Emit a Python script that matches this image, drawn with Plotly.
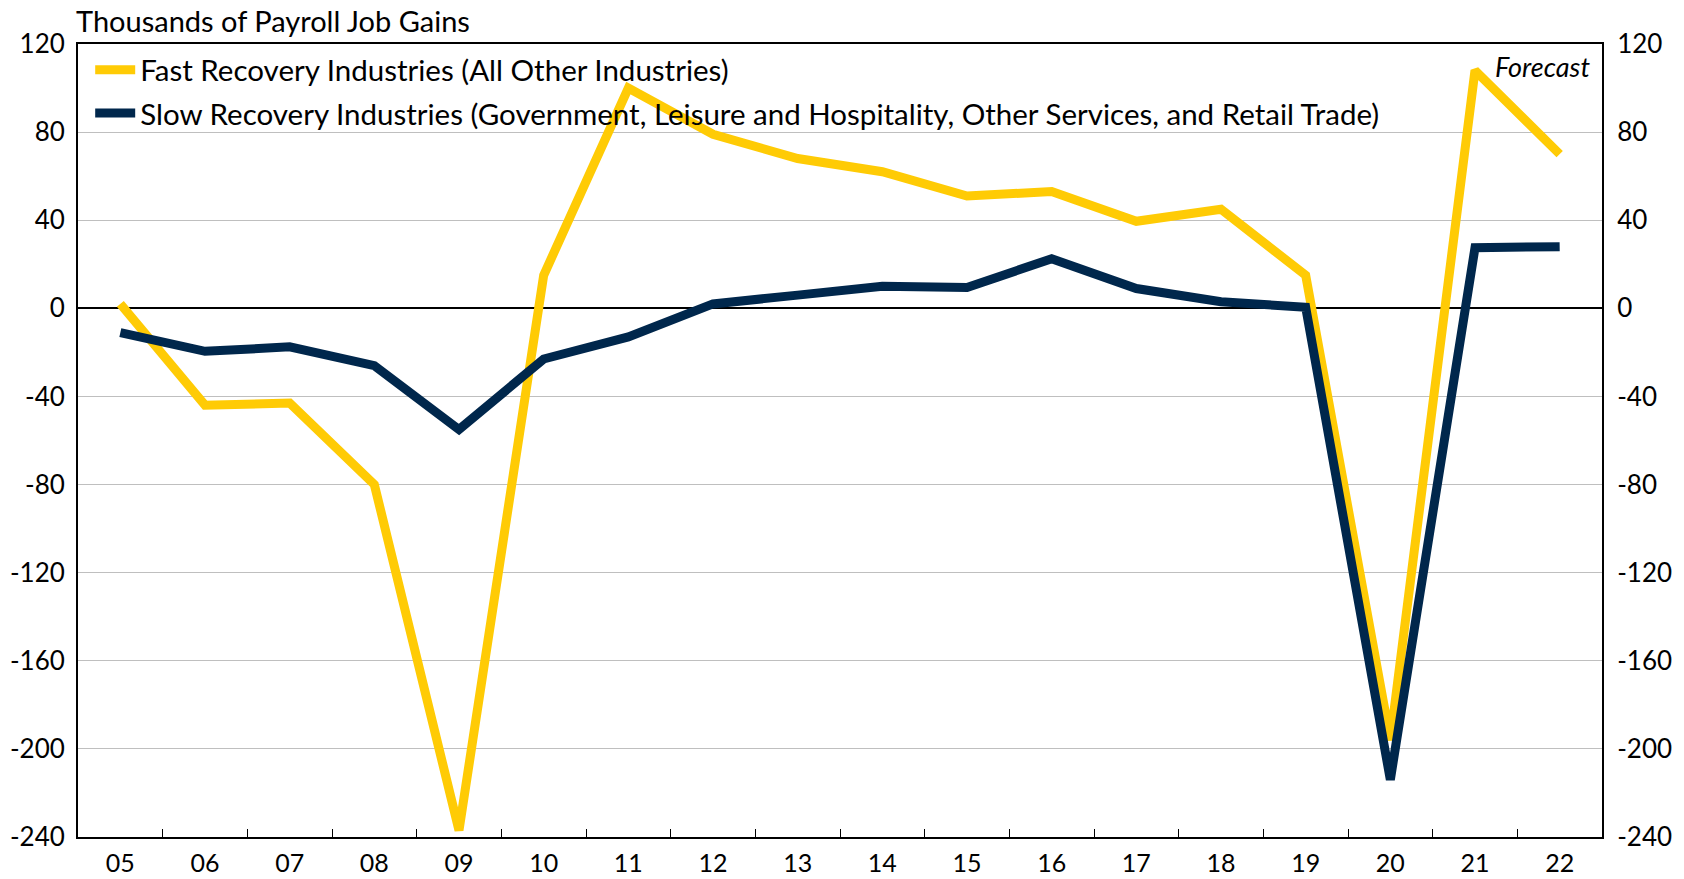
import plotly.graph_objects as go

years = ["05","06","07","08","09","10","11","12","13","14","15","16","17","18","19","20","21","22"]
fast = [2, -44, -43, -80, -237, 15, 100, 79, 68, 62, 51, 53, 39.5, 45, 15, -196, 108, 70]
slow = [-11, -19.5, -17.5, -26, -55, -23, -13, 2, 6, 10, 9.5, 22.5, 9, 3, 0.5, -214, 27.5, 28]
y_ticks = [120, 80, 40, 0, -40, -80, -120, -160, -200, -240]
y_ticktext = ["120", "80", "40", "0", "-40", "-80", "-120", "-160", "-200", "-240"]
fast_name = "Fast Recovery Industries (All Other Industries)"
slow_name = "Slow Recovery Industries (Government, Leisure and Hospitality, Other Services, and Retail Trade)"
forecast_year = "20"

FONT = "Lato, 'Open Sans', sans-serif"
YELLOW = "#FFCB05"
NAVY = "#00274C"

fig = go.Figure()
fig.add_trace(go.Scatter(x=years, y=fast, mode="lines", name=fast_name, legendgroup="a",
                         line=dict(color=YELLOW, width=9)))
fig.add_trace(go.Scatter(x=years, y=slow, mode="lines", name=slow_name, legendgroup="b",
                         line=dict(color=NAVY, width=9)))
# invisible trace for right axis
fig.add_trace(go.Scatter(x=years, y=slow, mode="lines", yaxis="y2", showlegend=False,
                         line=dict(width=0), hoverinfo="skip", opacity=0))

fig.add_vline(x=forecast_year, line=dict(color="black", width=1.5, dash="dash"))

axis_font = dict(family=FONT, size=26, color="black")
fig.update_layout(
    width=1684, height=879,
    paper_bgcolor="white", plot_bgcolor="white",
    margin=dict(l=78, r=82, t=44, b=42),
    font=dict(family=FONT, color="black"),
    xaxis=dict(type="category", range=[-0.5, 17.5], tickson="boundaries",
               ticks="inside", ticklen=8, tickcolor="black", tickwidth=1,
               showgrid=False, showline=True, linecolor="black", linewidth=2,
               mirror=True, tickfont=dict(family=FONT, size=25, color="black"),
               ticklabelstandoff=3, automargin=False),
    yaxis=dict(range=[-240, 120], tickvals=y_ticks, ticktext=y_ticktext, showgrid=True,
               gridcolor="#BFBFBF", gridwidth=1, zeroline=True, zerolinecolor="black",
               zerolinewidth=2, showline=True, linecolor="black", linewidth=2,
               tickfont=axis_font, ticks="", ticklabelstandoff=6, automargin=False),
    yaxis2=dict(range=[-240, 120], tickvals=y_ticks, ticktext=y_ticktext, overlaying="y",
                side="right", showgrid=False, zeroline=False, showline=True,
                linecolor="black", linewidth=2, tickfont=axis_font, ticks="",
                ticklabelstandoff=8, automargin=False),
    legend=dict(x=0.008, y=1.0, xanchor="left", yanchor="top", bgcolor="rgba(0,0,0,0)",
                font=dict(family=FONT, size=29.5, color="black"), tracegroupgap=2,
                itemwidth=40),
    showlegend=True,
)
fig.add_annotation(text="Thousands of Payroll Job Gains", xref="paper", yref="paper",
                   x=0, y=1, xshift=-4, yshift=4, xanchor="left", yanchor="bottom",
                   showarrow=False, font=dict(family=FONT, size=29, color="black"))
fig.add_annotation(text="<i>Forecast</i>", xref="paper", yref="paper",
                   x=1, y=1, xshift=-10, yshift=-4, xanchor="right", yanchor="top",
                   showarrow=False, font=dict(family=FONT, size=27, color="black"))

fig.write_html("out.html", config={"displayModeBar": False},
               post_script="document.body.style.margin='0px';document.body.style.overflow='hidden';")
